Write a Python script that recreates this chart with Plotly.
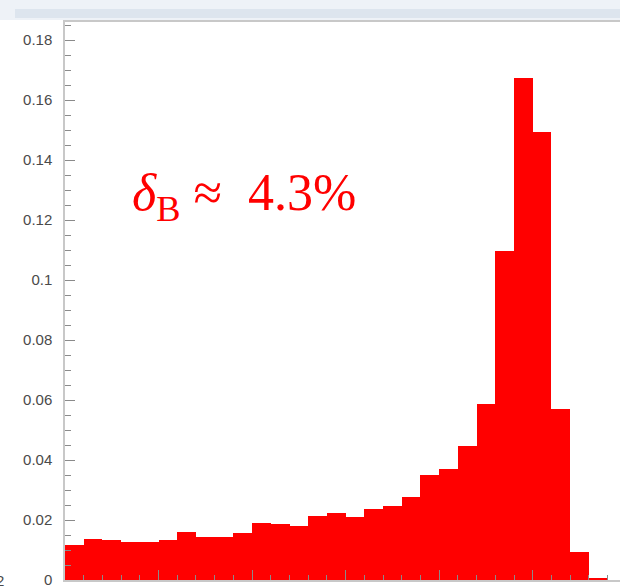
import plotly.graph_objects as go

# Histogram of delta_B: bin width 0.04 starting at 0
bin_width = 0.04
bin_starts = [i * bin_width for i in range(29)]
fractions = [
    0.0117, 0.0137, 0.0133, 0.0126, 0.0126, 0.0133, 0.0160, 0.0144, 0.0144, 0.0156,
    0.0189, 0.0186, 0.0181, 0.0214, 0.0222, 0.0209, 0.0236, 0.0247, 0.0276, 0.0350,
    0.0369, 0.0447, 0.0587, 0.1098, 0.1673, 0.1494, 0.0569, 0.0094, 0.0004,
]
y_ticks = [0, 0.02, 0.04, 0.06, 0.08, 0.1, 0.12, 0.14, 0.16, 0.18]
x_ticks = [0, 0.2, 0.4, 0.6, 0.8, 1.0, 1.2]
label_text = "<i>δ</i><sub>B</sub> ≈  4.3%"

W, H = 620, 587
L, R, T, B = 65, 0, 22, 7
plot_h = H - T - B

fig = go.Figure()
fig.add_trace(go.Bar(
    x=[s + bin_width / 2 for s in bin_starts],
    y=fractions,
    width=bin_width,
    marker=dict(color="#ff0000", line=dict(width=0)),
    hoverinfo="x+y",
))

axis_line = "#c8c8c8"
tick_col = "#8a8a8a"
tick_font = dict(family="Liberation Sans", size=15, color="#4a4a4a")

fig.update_xaxes(
    range=[0, (W - L - R) / 18.71 * bin_width],
    tickvals=x_ticks,
    ticktext=[("%g" % v) for v in x_ticks],
    ticks="inside", ticklen=10, tickwidth=1, tickcolor=tick_col,
    minor=dict(dtick=0.04, ticks="inside", ticklen=5, tickcolor=tick_col, tickwidth=1),
    showline=True, linecolor=axis_line, linewidth=1.5, mirror=True,
    showgrid=False, zeroline=False, automargin=False,
    ticklabelstandoff=-3, ticklabeloverflow="allow",
    tickfont=tick_font,
)
fig.update_yaxes(
    range=[0, plot_h / 3000],
    tickvals=y_ticks,
    ticks="inside", ticklen=10, tickwidth=1, tickcolor=tick_col,
    minor=dict(dtick=0.005, ticks="inside", ticklen=6, tickcolor=tick_col, tickwidth=1),
    showline=True, linecolor=axis_line, linewidth=1.5, mirror=False,
    showgrid=False, zeroline=False, automargin=False,
    ticklabelstandoff=8, ticklabeloverflow="allow",
    tickfont=tick_font,
)


def py(px):
    """Convert a pixel row of the page into paper coordinates."""
    return (H - B - px) / plot_h


# pale strip along the top of the page
fig.add_shape(type="rect", xref="paper", yref="paper",
              x0=-L / (W - L), x1=1.0, y0=py(20), y1=py(0),
              fillcolor="#eef2f7", line_width=0, layer="below")
fig.add_shape(type="rect", xref="paper", yref="paper",
              x0=-50 / (W - L), x1=1.0, y0=py(18), y1=py(9),
              fillcolor="#d6e0ea", opacity=0.7, line_width=0, layer="below")

fig.add_annotation(
    x=(130 - L) / 18.71 * bin_width, y=(580 - 196) / 3000,
    xref="x", yref="y", xanchor="left", yanchor="middle",
    text=label_text, showarrow=False,
    font=dict(family="Liberation Serif", size=52, color="#ff0000"),
)

# clipped label at the left edge
fig.add_annotation(
    x=-L / (W - L), y=py(580), xref="paper", yref="paper",
    xanchor="center", yanchor="middle", text="2", showarrow=False,
    font=tick_font,
)

fig.update_layout(
    width=W, height=H,
    margin=dict(l=L, r=R, t=T, b=B, pad=0, autoexpand=False),
    paper_bgcolor="white", plot_bgcolor="white",
    bargap=0, showlegend=False,
)

fig.write_html("out.html")
